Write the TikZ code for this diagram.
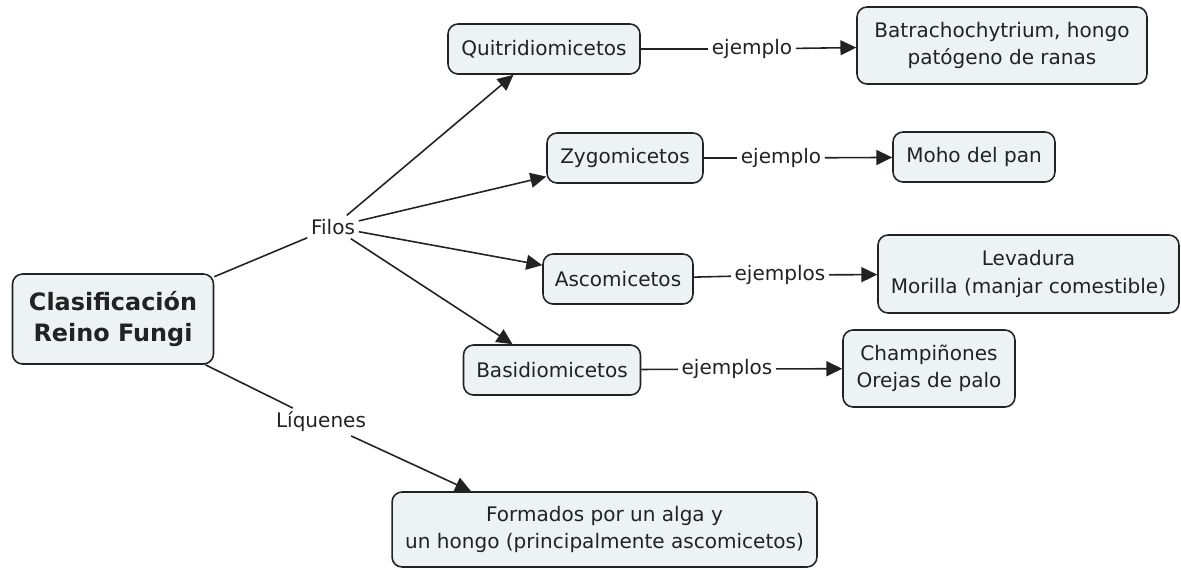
\documentclass[tikz,border=0pt]{standalone}
\usepackage{fontspec}
\setmainfont{DejaVu Sans}
\usepackage{tikz}
\usetikzlibrary{arrows.meta}

\definecolor{boxfill}{HTML}{EDF2F5}
\definecolor{ink}{HTML}{222222}

\begin{document}
\begin{tikzpicture}[x=0.02cm, y=-0.02cm,
  box/.style={draw=ink, fill=boxfill, rounded corners=0.2cm, line width=0.9pt,
    align=center, inner sep=0pt, text=ink, font=\fontsize{11.4}{15.5}\selectfont},
  lbl/.style={inner sep=2pt, text=ink, font=\fontsize{11.4}{13}\selectfont},
  link/.style={draw=ink, line width=0.9pt},
  arr/.style={link, -{Triangle[length=9pt, width=8.5pt]}}]

\useasboundingbox (0,0) rectangle (1181,569);

\node [box, minimum width=4.02cm, minimum height=1.8cm, font=\fontsize{13.6}{18}\selectfont\bfseries] (root) at (113,319) {Clasificación\\Reino Fungi};

\node [lbl] (filos) at (333,227) {Filos};
\node [lbl] (liq) at (321,422) {Líquenes};

% filos
\node [box, minimum width=3.84cm, minimum height=1.0cm] (quit) at (544,49) {Quitridiomicetos};
\node [box, minimum width=3.12cm, minimum height=1.0cm] (zygo) at (625,158) {Zygomicetos};
\node [box, minimum width=3.0cm, minimum height=1.0cm] (asco) at (618,279) {Ascomicetos};
\node [box, minimum width=3.54cm, minimum height=1.0cm] (basid) at (552,370) {Basidiomicetos};

% ejemplos
\node [box, minimum width=5.8cm, minimum height=1.54cm] (batra) at (1002,45.5) {Batrachochytrium, hongo\\patógeno de ranas};
\node [box, minimum width=3.24cm, minimum height=1.0cm] (moho) at (974,157) {Moho del pan};
\node [box, minimum width=6.02cm, minimum height=1.56cm] (leva) at (1028.5,274) {Levadura\\Morilla (manjar comestible)};
\node [box, minimum width=3.44cm, minimum height=1.54cm] (champ) at (929,368.5) {Champiñones\\Orejas de palo};

\node [box, minimum width=8.5cm, minimum height=1.5cm] (form) at (604.5,529.5) {Formados por un alga y\\un hongo (principalmente ascomicetos)};

\node [lbl] (ej_1) at (752,49) {ejemplo};
\node [lbl] (ej_2) at (781,158) {ejemplo};
\node [lbl] (ej_3) at (780,275) {ejemplos};
\node [lbl] (ej_4) at (727,369) {ejemplos};

\draw [link] (root)--(filos);
\draw [link] (root)--(liq);

\draw [arr] (filos)--(quit);
\draw [arr] (filos)--(zygo);
\draw [arr] (filos)--(asco);
\draw [arr] (filos)--(basid);
\draw [arr] (liq)--(form.164);

\draw [link] (quit)--(ej_1);
\draw [arr] (ej_1)--(batra);
\draw [link] (zygo)--(ej_2);
\draw [arr] (ej_2)--(moho);
\draw [link] (asco)--(ej_3);
\draw [arr] (ej_3)--(leva);
\draw [link] (basid)--(ej_4);
\draw [arr] (ej_4)--(champ);

\end{tikzpicture}
\end{document}
